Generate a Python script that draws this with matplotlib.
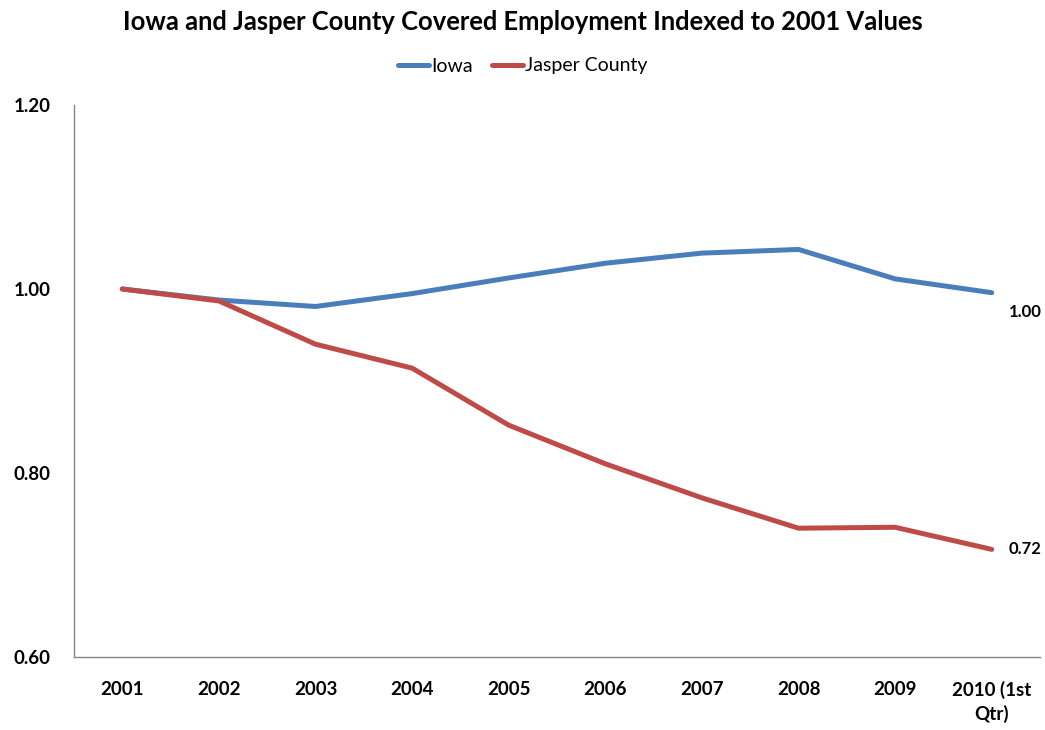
import matplotlib.pyplot as plt

# covered employment, indexed so 2001 = 1.00
years = ["2001", "2002", "2003", "2004", "2005", "2006", "2007", "2008", "2009", "2010 (1st\nQtr)"]
iowa = [1.000, 0.988, 0.981, 0.995, 1.012, 1.028, 1.039, 1.043, 1.011, 0.996]
jasper = [1.000, 0.987, 0.940, 0.914, 0.852, 0.810, 0.773, 0.740, 0.741, 0.717]

blue = "#4A7EBB"
red = "#BE4B48"

plt.rcParams['font.family'] = ['Lato', 'DejaVu Sans']

fig = plt.figure(figsize=(10.45, 7.3), dpi=100)
ax = fig.add_axes([74/1045, 73/730, 966/1045, 552/730])

x = list(range(len(years)))
ax.plot(x, iowa, color=blue, lw=3.6, solid_capstyle='round', solid_joinstyle='round', label="Iowa")
ax.plot(x, jasper, color=red, lw=3.6, solid_capstyle='round', solid_joinstyle='round', label="Jasper County")

# value labels on the last point
ax.annotate("%.2f" % iowa[-1], (x[-1], iowa[-1]), xytext=(12, -14), textcoords='offset points',
            fontsize=12, fontweight='bold', va='center', ha='left')
ax.annotate("%.2f" % jasper[-1], (x[-1], jasper[-1]), xytext=(12, 0), textcoords='offset points',
            fontsize=12, fontweight='bold', va='center', ha='left')

ax.set_xlim(-0.5, len(years) - 0.5)
ax.set_ylim(0.6, 1.2)
ax.set_yticks([0.6, 0.8, 1.0, 1.2])
ax.set_yticklabels(["0.60", "0.80", "1.00", "1.20"])
ax.set_xticks(x)
ax.set_xticklabels(years, linespacing=1.4, va='top')
ax.tick_params(length=0, labelsize=13.5)
ax.tick_params(axis='y', pad=17)
ax.tick_params(axis='x', pad=17)
for lab in ax.get_xticklabels() + ax.get_yticklabels():
    lab.set_fontweight('bold')

for s in ['top', 'right']:
    ax.spines[s].set_visible(False)
for s in ['left', 'bottom']:
    ax.spines[s].set_color('#868686')
    ax.spines[s].set_linewidth(1)

fig.text(0.5, 1 - 22/730, "Iowa and Jasper County Covered Employment Indexed to 2001 Values",
         ha='center', va='center', fontsize=18.4, fontweight='bold')
fig.legend(loc='center', bbox_to_anchor=(0.5, 1 - 66/730), ncol=2, frameon=False,
           fontsize=14, handlelength=1.6, handletextpad=0.1, columnspacing=1.0)

plt.savefig("out.png", dpi=100)
